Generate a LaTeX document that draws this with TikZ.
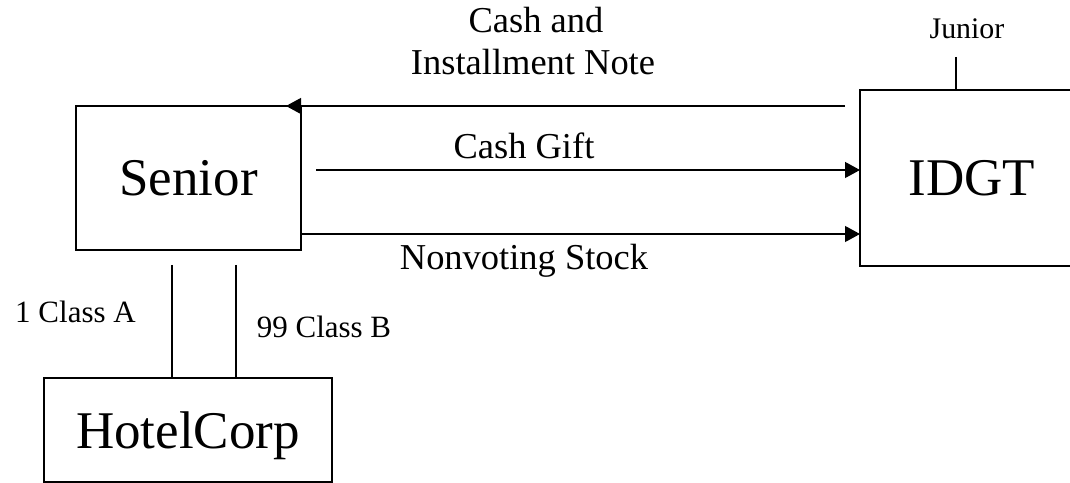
\documentclass[tikz,border=0pt]{standalone}
\usepackage{fontspec}
\setmainfont{Liberation Serif}
\usetikzlibrary{arrows.meta}

\begin{document}
\begin{tikzpicture}[x=1bp,y=-1bp,
  party/.style={draw, line width=1.2bp, rectangle, inner sep=0pt, outer sep=0pt,
    text depth=0pt, font=\fontsize{53.2}{60}\selectfont},
  link/.style={line width=1.2bp},
  flow/.style={link, -{Triangle[length=15bp,width=16bp]}},
  midlabel/.style={anchor=base, inner sep=0pt, font=\fontsize{36.6}{42}\selectfont},
  smalllabel/.style={anchor=base, inner sep=0pt, font=\fontsize{31.1}{36}\selectfont}]

  \useasboundingbox[fill=white] (0,0) rectangle (1070,483);

  % the three parties
  \node[party, minimum width=225bp, minimum height=144bp] (senior) at (188.5,178) {Senior};
  \node[party, minimum width=224bp, minimum height=176bp] (idgt) at (972,178) {IDGT};
  \node[party, minimum width=288bp, minimum height=104bp] (hotel) at (188,430) {HotelCorp};

  % free ends of the connectors
  \coordinate (noteStart) at (845,106);
  \coordinate (giftStart) at (316,170);
  \coordinate (stockRow) at (0,234);
  \coordinate (juniorTop) at (956,57);
  \coordinate (classA) at (172,265);
  \coordinate (classB) at (236,265);

  % transfers between Senior and the trust (the note arrow rests on Senior's top edge)
  \draw[flow, shorten >=-15bp] (noteStart) -- (noteStart -| senior.east);
  \draw[flow] (giftStart) -- (giftStart -| idgt.west);
  \draw[flow] (stockRow -| senior.east) -- (stockRow -| idgt.west);

  % beneficiary and share holdings
  \draw[link] (juniorTop) -- (juniorTop |- idgt.north);
  \draw[link] (classA) -- (classA |- hotel.north);
  \draw[link] (classB) -- (classB |- hotel.north);

  % labels
  \node[midlabel] (lblCash) at (536,33) {Cash and};
  \node[midlabel] (lblNote) at (533,75) {Installment Note};
  \node[midlabel] (lblGift) at (524,159) {Cash Gift};
  \node[midlabel] (lblStock) at (524,270) {Nonvoting Stock};
  \node[anchor=base, inner sep=0pt, font=\fontsize{30}{34}\selectfont] (lblJunior) at (967,39) {Junior};
  \node[smalllabel] (lblA) at (75.5,323) {1 Class A};
  \node[smalllabel] (lblB) at (324,338) {99 Class B};
\end{tikzpicture}
\end{document}
